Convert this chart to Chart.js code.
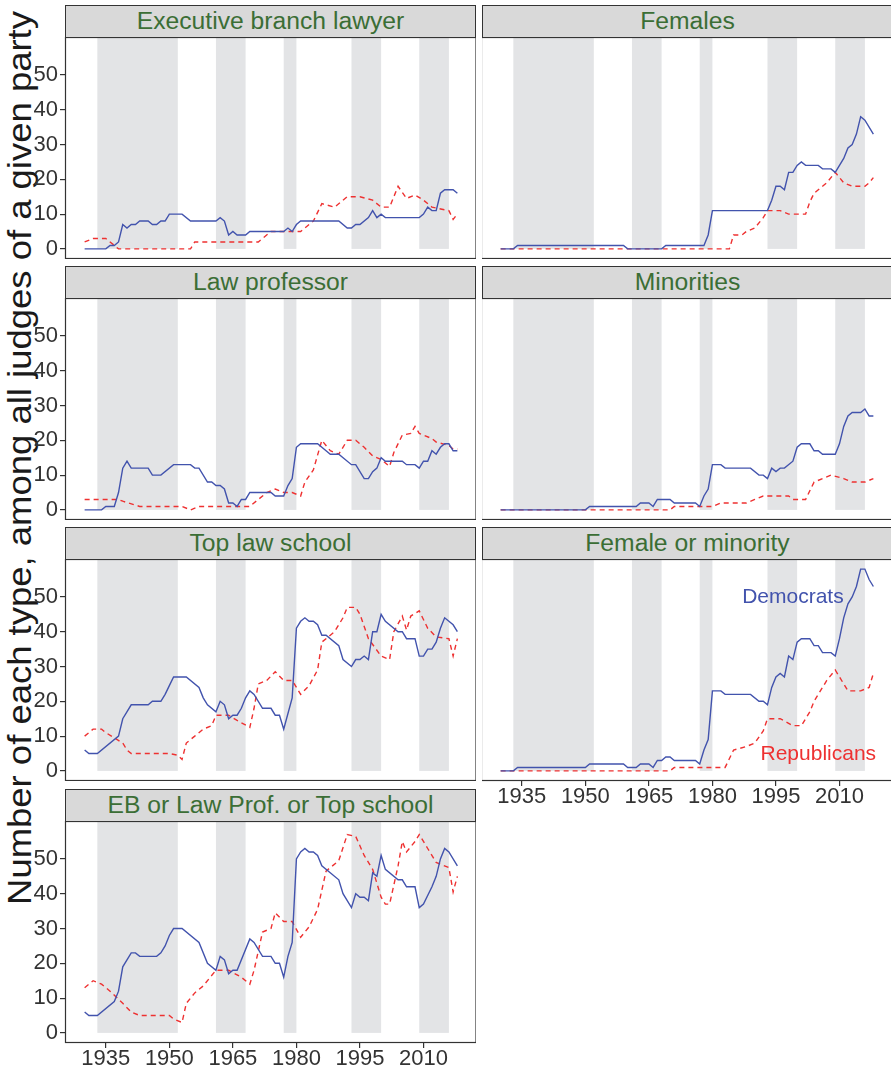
<!DOCTYPE html>
<html>
<head>
<meta charset="utf-8">
<title>Judges by type and party</title>
<script src="https://cdn.jsdelivr.net/npm/chart.js@4.4.1/dist/chart.umd.min.js"></script>
<style>
  html, body { margin: 0; padding: 0; background: #fff; width: 891px; height: 1069px; overflow: hidden;
    font-family: "Liberation Sans", Arial, sans-serif; }
  .strip { position: absolute; box-sizing: border-box; height: 33px; background: #d9d9d9;
    border: 1px solid #333; color: #3b6e35; font-size: 24.7px; text-align: center; line-height: 30px; white-space: nowrap; }
  canvas { position: absolute; }
  #ytitle { position: absolute; left: 18.5px; top: 458px; transform: translate(-50%, -50%) rotate(-90deg) scale(1.105, 1);
    white-space: nowrap; font-size: 33px; line-height: 33px; color: #1a1a1a; }
</style>
</head>
<body>
<div id="ytitle">Number of each type, among all judges of a given party</div>
<script>
// Year ranges of Democratic administrations (shaded)
const demTerms = [[1933, 1952], [1961, 1968], [1977, 1980], [1993, 2000], [2009, 2016]];

// Axis ticks
const xTicks = [1935, 1950, 1965, 1980, 1995, 2010];
const yTicks = [0, 10, 20, 30, 40, 50];

// Each series: [year, number of judges]
const execDem = [[1930,0],[1935,0],[1936,1],[1937,1],[1938,2],[1939,7],[1940,6],[1941,7],[1942,7],[1943,8],[1945,8],[1946,7],[1947,7],[1948,8],[1949,8],[1950,10],[1953,10],[1955,8],[1961,8],[1962,9],[1963,8],[1964,4],[1965,5],[1966,4],[1968,4],[1969,5],[1977,5],[1978,6],[1979,5],[1980,7],[1981,8],[1990,8],[1992,6],[1993,6],[1994,7],[1995,7],[1997,9],[1998,11],[1999,9],[2000,10],[2001,9],[2009,9],[2010,10],[2011,12],[2012,11],[2013,11],[2014,16],[2015,17],[2017,17],[2018,16]];
const execRep = [[1930,2],[1932,3],[1935,3],[1937,1],[1938,0],[1955,0],[1956,2],[1971,2],[1972,3],[1974,5],[1981,5],[1984,8],[1986,13],[1989,12],[1992,15],[1995,15],[1998,14],[2000,12],[2002,12],[2004,18],[2006,14.5],[2008,15.5],[2010,14],[2012,12],[2016,11],[2017,8.5],[2018,10]];

const femDem = [[1930,0],[1933,0],[1934,1],[1959,1],[1960,0],[1968,0],[1969,1],[1978,1],[1979,4],[1980,11],[1993,11],[1994,14],[1995,18],[1996,18],[1997,17],[1998,22],[1999,22],[2000,24],[2001,25],[2002,24],[2005,24],[2006,23],[2008,23],[2009,22],[2010,24],[2011,26],[2012,29],[2013,30],[2014,33],[2015,38],[2016,37],[2018,33]];
const femRep = [[1930,0],[1984,0],[1985,4],[1987,4],[1988,5],[1990,6],[1992,9],[1993,11],[1996,11],[1998,10],[2002,10],[2003,13.5],[2004,16],[2006,18],[2007,19],[2009,22],[2011,19],[2013,18],[2016,18],[2017,19],[2018,20.5]];

const profDem = [[1930,0],[1934,0],[1935,1],[1937,1],[1938,5],[1939,12],[1940,14],[1941,12],[1945,12],[1946,10],[1948,10],[1951,13],[1955,13],[1956,12],[1957,12],[1959,8],[1960,8],[1961,7],[1962,7],[1963,6],[1964,2],[1965,2],[1966,1],[1967,3],[1968,3],[1969,5],[1974,5],[1975,4],[1977,4],[1978,7],[1979,9],[1980,18],[1981,19],[1985,19],[1987,17],[1988,16],[1990,16],[1993,13],[1994,13],[1996,9],[1997,9],[1998,11],[1999,12],[2000,15],[2001,14],[2005,14],[2006,13],[2008,13],[2009,12],[2010,14],[2011,14],[2012,17],[2013,16],[2014,18],[2015,19],[2016,19],[2017,17],[2018,17]];
const profRep = [[1930,3],[1938,3],[1939,2.5],[1943,1],[1953,1],[1955,0],[1957,1],[1969,1],[1971,3],[1973,5],[1975,6],[1977,5],[1979,5],[1981,4],[1982,8],[1984,11.5],[1986,20],[1988,17],[1990,16],[1992,20],[1994,20],[1996,18],[1998,15.5],[2000,14.5],[2002,12.5],[2003,16.5],[2005,21.5],[2007,22],[2008,24],[2009,22],[2012,20.5],[2013,19.5],[2016,18.5],[2017,17.5],[2018,17.5]];

const minDem = [[1930,0],[1950,0],[1951,1],[1962,1],[1963,2],[1965,2],[1966,1],[1967,3],[1970,3],[1971,2],[1976,2],[1977,1],[1978,4],[1979,6],[1980,13],[1982,13],[1983,12],[1989,12],[1991,10],[1992,10],[1993,9],[1994,12],[1995,11],[1996,12],[1997,12],[1999,14],[2000,18],[2001,19],[2003,19],[2004,17],[2005,17],[2006,16],[2009,16],[2010,19],[2011,24],[2012,27],[2013,28],[2015,28],[2016,29],[2017,27],[2018,27]];
const minRep = [[1930,0],[1970,0],[1971,1],[1980,1],[1982,2],[1988,2],[1990,3],[1992,4],[1998,4],[1999,3],[2002,3],[2004,8],[2006,9],[2008,10],[2011,9],[2013,8],[2016,8],[2018,9]];

const topDem = [[1930,6],[1931,5],[1933,5],[1938,10],[1939,15],[1941,19],[1945,19],[1946,20],[1948,20],[1949,22],[1950,24.5],[1951,27],[1954,27],[1957,24],[1958,21],[1959,19],[1961,17],[1962,20],[1963,19],[1964,15],[1965,16],[1966,16],[1967,18],[1968,21],[1969,23],[1970,22],[1972,18],[1974,18],[1975,16],[1976,16],[1977,12],[1979,21],[1980,41],[1981,43],[1982,44],[1983,43],[1984,43],[1985,42],[1986,39],[1987,39],[1990,36],[1991,32],[1993,30],[1994,32],[1995,32],[1996,33],[1997,32],[1998,40],[1999,40],[2000,45],[2001,43],[2004,40],[2005,40],[2006,38],[2008,38],[2009,33],[2010,33],[2011,35],[2012,35],[2013,37],[2014,41],[2015,44],[2016,43],[2017,42],[2018,40]];
const topRep = [[1930,10],[1932,12],[1934,12],[1935,11],[1937,9.5],[1939,8],[1940,6],[1941,5],[1950,5],[1952,4.5],[1953,3.3],[1954,8],[1956,10],[1958,12],[1960,13],[1961,16],[1964,16],[1966,14.5],[1969,12.5],[1970,18],[1971,25],[1973,26],[1975,28.5],[1977,26],[1979,26],[1981,22],[1983,24.5],[1985,29],[1986,37],[1989,40],[1991,44],[1992,47],[1994,47],[1995,45],[1997,38],[2000,33],[2002,32],[2003,40],[2005,44.5],[2006,40.5],[2007,44.5],[2009,46],[2011,41],[2013,38.5],[2016,38],[2017,33],[2018,38]];

const fomDem = [[1930,0],[1933,0],[1934,1],[1950,1],[1951,2],[1959,2],[1960,1],[1962,1],[1963,2],[1965,2],[1966,1],[1967,3],[1968,3],[1969,4],[1970,4],[1971,3],[1976,3],[1977,2],[1978,6],[1979,9],[1980,23],[1982,23],[1983,22],[1989,22],[1991,20],[1992,20],[1993,19],[1994,24],[1995,27],[1996,28],[1997,27],[1998,33],[1999,32],[2000,37],[2001,38],[2003,38],[2004,36],[2005,36],[2006,34],[2008,34],[2009,33],[2010,38],[2011,44],[2012,48],[2013,50],[2014,53],[2015,58],[2016,58],[2017,55],[2018,53]];
const fomRep = [[1930,0],[1970,0],[1971,1],[1983,1],[1985,6],[1988,7],[1990,8],[1992,11.5],[1993,15],[1996,15],[1999,13],[2001,13],[2003,17],[2004,20],[2006,24],[2007,26],[2009,29],[2011,25],[2012,23],[2015,23],[2017,24],[2018,28]];

const anyDem = [[1930,6],[1931,5],[1933,5],[1937,9],[1938,12],[1939,19],[1941,23],[1942,23],[1943,22],[1947,22],[1948,23],[1949,25],[1950,28],[1951,30],[1953,30],[1957,26],[1959,20],[1961,18],[1962,22],[1963,21],[1964,17],[1965,18],[1966,18],[1969,27],[1970,26],[1972,22],[1974,22],[1975,20],[1976,20],[1977,16],[1978,22],[1979,26],[1980,50],[1981,52],[1982,53],[1983,52],[1984,52],[1985,51],[1986,48],[1990,44],[1991,40],[1993,36],[1994,40],[1995,39],[1996,39],[1997,38],[1998,46],[1999,45],[2000,51],[2001,47],[2004,44],[2005,44],[2006,42],[2008,42],[2009,36],[2010,37],[2012,42],[2013,45],[2014,50],[2015,53],[2016,52],[2018,48]];
const anyRep = [[1930,13],[1932,15],[1934,14],[1936,12],[1939,8.5],[1941,6],[1943,5],[1950,5],[1951,4],[1953,3],[1954,8.5],[1956,11.5],[1958,13.5],[1961,18],[1964,18],[1967,16],[1969,14],[1970,18],[1972,29],[1974,30],[1975,34.5],[1977,32],[1979,32],[1981,27.5],[1983,30.5],[1985,35.5],[1987,46.5],[1990,49.5],[1992,57],[1994,56.5],[1996,51],[1998,47],[2000,39],[2001,37],[2002,37],[2004,48],[2005,55],[2006,52],[2008,55],[2009,57],[2011,53],[2013,49],[2016,47.5],[2017,40.5],[2018,45]];

const DEM_COLOR = '#4253ad';
const REP_COLOR = '#ee3131';
const BAND_COLOR = '#e3e4e6';
const X_MIN = 1925.6, X_MAX = 2022.4;
const Y_MIN = -2.9, Y_MAX = 60.9;

Chart.defaults.font.family = '"Liberation Sans", Arial, sans-serif';

// Facet layout: column 0 carries the y axis, the last panel of each column the x axis
const PLOT_TOPS = [37, 298, 559, 821];
const PLOT_H = 222;
const Y_AXIS_W = 66;
const X_AXIS_H = 30;
const COL_LEFT = [0, 482];
const PLOT_W = 410;

const panels = [
  { title: 'Executive branch lawyer', dem: execDem, rep: execRep, col: 0, row: 0, xAxis: false },
  { title: 'Females', dem: femDem, rep: femRep, col: 1, row: 0, xAxis: false },
  { title: 'Law professor', dem: profDem, rep: profRep, col: 0, row: 1, xAxis: false },
  { title: 'Minorities', dem: minDem, rep: minRep, col: 1, row: 1, xAxis: false },
  { title: 'Top law school', dem: topDem, rep: topRep, col: 0, row: 2, xAxis: false },
  { title: 'Female or minority', dem: fomDem, rep: fomRep, col: 1, row: 2, xAxis: true,
    labels: [{ text: 'Democrats', x: 1999, y: 50, color: DEM_COLOR },
             { text: 'Republicans', x: 2005, y: 4.7, color: REP_COLOR }] },
  { title: 'EB or Law Prof. or Top school', dem: anyDem, rep: anyRep, col: 0, row: 3, xAxis: true }
];

const termBands = {
  id: 'termBands',
  beforeDatasetsDraw(chart) {
    const { ctx, chartArea: a, scales: { x, y } } = chart;
    const y0 = y.getPixelForValue(0);
    ctx.save();
    ctx.fillStyle = BAND_COLOR;
    for (const [s, e] of demTerms) {
      const x0 = x.getPixelForValue(s), x1 = x.getPixelForValue(e);
      ctx.fillRect(x0, a.top, x1 - x0, y0 - a.top);
    }
    ctx.restore();
  }
};

const panelBorder = {
  id: 'panelBorder',
  afterDatasetsDraw(chart) {
    const { ctx, chartArea: a } = chart;
    ctx.save();
    ctx.strokeStyle = '#333';
    ctx.lineWidth = 1.2;
    ctx.strokeRect(a.left - 0.5, a.top + 0.5, a.right - a.left + 0.5, a.bottom - a.top - 1);
    ctx.restore();
  }
};

const seriesLabels = {
  id: 'seriesLabels',
  afterDatasetsDraw(chart, args, opts) {
    const items = opts.items || [];
    const { ctx, scales: { x, y } } = chart;
    ctx.save();
    ctx.font = '21px "Liberation Sans", Arial, sans-serif';
    ctx.textAlign = 'center';
    ctx.textBaseline = 'middle';
    for (const it of items) {
      ctx.fillStyle = it.color;
      ctx.fillText(it.text, x.getPixelForValue(it.x), y.getPixelForValue(it.y));
    }
    ctx.restore();
  }
};

const toPoints = arr => arr.map(([x, y]) => ({ x, y }));

function tickStyle() {
  return { font: { size: 22, lineHeight: 0.8 }, color: '#333', padding: 2, maxRotation: 0, autoSkip: false,
           callback: v => String(v) };
}

for (const p of panels) {
  const hasY = p.col === 0;
  const left = COL_LEFT[p.col];
  const width = (hasY ? Y_AXIS_W : 0) + PLOT_W;
  const height = PLOT_H + (p.xAxis ? X_AXIS_H : 0);
  const top = PLOT_TOPS[p.row];

  const strip = document.createElement('div');
  strip.className = 'strip';
  strip.textContent = p.title;
  strip.style.left = (left + (hasY ? Y_AXIS_W - 1 : 0)) + 'px';
  strip.style.width = (PLOT_W + 1) + 'px';
  strip.style.top = (top - 32) + 'px';
  document.body.appendChild(strip);

  const canvas = document.createElement('canvas');
  canvas.width = width; canvas.height = height;
  canvas.style.left = left + 'px'; canvas.style.top = top + 'px';
  canvas.style.width = width + 'px'; canvas.style.height = height + 'px';
  document.body.appendChild(canvas);

  new Chart(canvas, {
    type: 'line',
    data: {
      datasets: [
        { label: 'Democrats', data: toPoints(p.dem), borderColor: DEM_COLOR, borderWidth: 1.4,
          pointRadius: 0, tension: 0 },
        { label: 'Republicans', data: toPoints(p.rep), borderColor: REP_COLOR, borderWidth: 1.4,
          borderDash: [5, 4], pointRadius: 0, tension: 0 }
      ]
    },
    options: {
      responsive: false, animation: false, devicePixelRatio: 1,
      layout: { padding: 0 },
      events: [],
      plugins: { legend: { display: false }, tooltip: { enabled: false },
                 seriesLabels: { items: p.labels || [] } },
      scales: {
        x: {
          type: 'linear', min: X_MIN, max: X_MAX, display: p.xAxis,
          afterBuildTicks: s => { s.ticks = xTicks.map(v => ({ value: v })); },
          afterFit: s => { if (p.xAxis) { s.height = X_AXIS_H; } s.paddingLeft = 0; s.paddingRight = 0; },
          grid: { display: true, drawOnChartArea: false, drawTicks: true, tickLength: 5, color: '#333', lineWidth: 1.2 },
          border: { display: false },
          ticks: tickStyle()
        },
        y: {
          type: 'linear', min: Y_MIN, max: Y_MAX, display: hasY,
          afterBuildTicks: s => { s.ticks = yTicks.map(v => ({ value: v })); },
          afterFit: s => { if (hasY) { s.width = Y_AXIS_W; } s.paddingTop = 0; s.paddingBottom = 0; },
          grid: { display: true, drawOnChartArea: false, drawTicks: true, tickLength: 6, color: '#333', lineWidth: 1.2 },
          border: { display: false },
          ticks: Object.assign(tickStyle(), { padding: 2 })
        }
      }
    },
    plugins: [termBands, panelBorder, seriesLabels]
  });
}
</script>
</body>
</html>
